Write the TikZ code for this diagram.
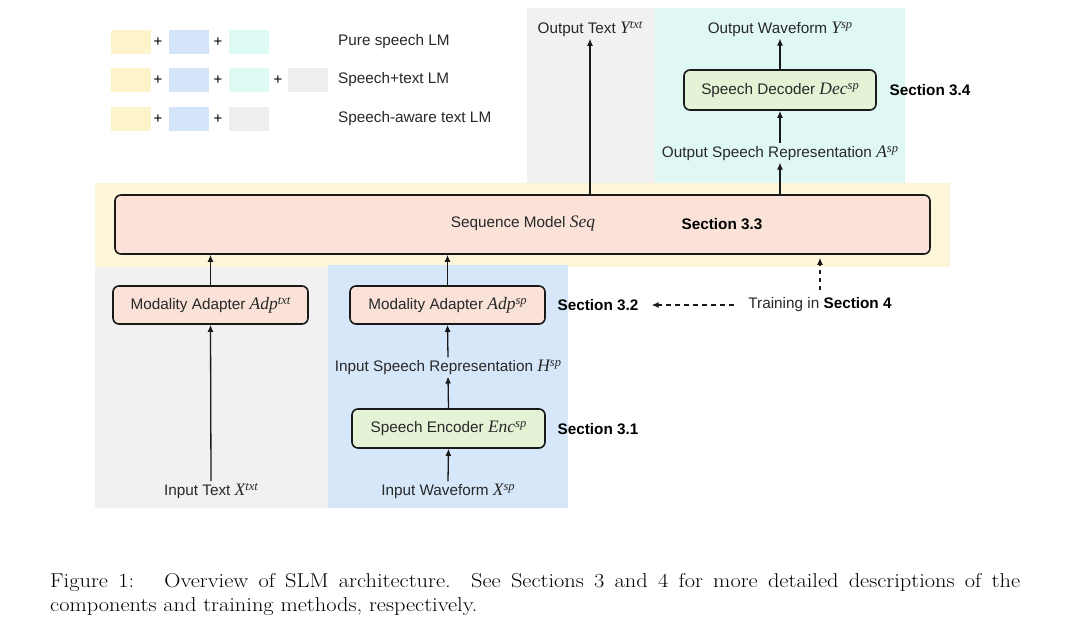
\documentclass[tikz,border=0pt]{standalone}
\usepackage{fontspec}
\newfontfamily\hvfont{Liberation Sans}
\newfontfamily\tmsfont{Liberation Serif}
\usetikzlibrary{arrows.meta}

\definecolor{bandyellow}{RGB}{253,246,218}
\definecolor{bggrey}{RGB}{241,241,241}
\definecolor{bgblue}{RGB}{214,231,249}
\definecolor{bgcyan}{RGB}{224,248,244}
\definecolor{peach}{RGB}{250,226,216}
\definecolor{mint}{RGB}{228,243,214}
\definecolor{lgyellow}{RGB}{253,244,204}
\definecolor{lgblue}{RGB}{212,229,249}
\definecolor{lgcyan}{RGB}{222,250,244}
\definecolor{lggrey}{RGB}{238,238,238}
\definecolor{inkgrey}{RGB}{40,40,40}

\newcommand{\myvar}[2]{{\fontsize{17.5}{18}\tmsfont\itshape #1}\raisebox{5pt}{\fontsize{12.5}{13}\tmsfont\itshape #2}}

\tikzset{
  block/.style={draw=black!90, line width=1.6pt, rounded corners=6pt, fill=peach,
    font=\hvfont\fontsize{15.3}{17}\selectfont, text=inkgrey, inner sep=0pt, minimum height=38pt},
  lbl/.style={font=\hvfont\fontsize{15.3}{17}\selectfont, inner sep=2pt, text=inkgrey},
  sec/.style={font=\hvfont\bfseries\fontsize{15.3}{17}\selectfont, inner sep=1pt},
  arr/.style={-{Latex[length=7pt,width=6pt]}, line width=1.3pt, draw=black!90},
  swatch/.style={minimum width=40pt, minimum height=24pt, inner sep=0pt},
  plus/.style={font=\hvfont\fontsize{15}{16}\selectfont, inner sep=0pt},
}

\begin{document}
\begin{tikzpicture}[x=1pt,y=-1pt]
\useasboundingbox (0,0) rectangle (1080,623);
\fill[white] (0,0) rectangle (1080,623);

% background regions
\fill[bggrey] (527,8) rectangle (655,183);
\fill[bgcyan] (655,8) rectangle (905,183);
\fill[bandyellow] (95,183) rectangle (950,267);
\fill[bggrey] (95,267) rectangle (328,508);
\fill[bgblue] (328,265) rectangle (568,508);

% legend
\node[swatch, fill=lgyellow] (l1a) at (131,42) {};
\node[plus] (l1p1) at (158,42) {+};
\node[swatch, fill=lgblue] (l1b) at (189,42) {};
\node[plus] (l1p2) at (218,42) {+};
\node[swatch, fill=lgcyan] (l1c) at (249,42) {};
\node[lbl, anchor=west] (l1t) at (336,42) {Pure speech LM};

\node[swatch, fill=lgyellow] (l2a) at (131,80) {};
\node[plus] (l2p1) at (158,80) {+};
\node[swatch, fill=lgblue] (l2b) at (189,80) {};
\node[plus] (l2p2) at (218,80) {+};
\node[swatch, fill=lgcyan] (l2c) at (249,80) {};
\node[plus] (l2p3) at (278,80) {+};
\node[swatch, fill=lggrey] (l2d) at (308,80) {};
\node[lbl, anchor=west] (l2t) at (336,80) {Speech+text LM};

\node[swatch, fill=lgyellow] (l3a) at (131,119) {};
\node[plus] (l3p1) at (158,119) {+};
\node[swatch, fill=lgblue] (l3b) at (189,119) {};
\node[plus] (l3p2) at (218,119) {+};
\node[swatch, fill=lggrey] (l3c) at (249,119) {};
\node[lbl, anchor=west] (l3t) at (336,119) {Speech-aware text LM};

% blocks
\node[block, minimum width=815pt, minimum height=59pt] (seq) at (522.5,224.5) {};
\node[lbl] (seqt) at (523,224) {Sequence Model {\fontsize{17.5}{18}\tmsfont\itshape Seq}};
\node[sec] (sec33) at (722,224) {Section 3.3};

\node[block, minimum width=195pt] (adtxt) at (210.5,305) {Modality Adapter \myvar{Adp}{txt}};
\node[block, minimum width=195pt] (adsp) at (447.5,305) {Modality Adapter \myvar{Adp}{sp}};
\node[block, fill=mint, minimum width=193pt, minimum height=39pt] (enc) at (448.5,428.5) {Speech Encoder \myvar{Enc}{sp}};
\node[block, fill=mint, minimum width=192pt, minimum height=40pt] (dec) at (780,90) {Speech Decoder \myvar{Dec}{sp}};

% labels
\node[lbl] (intxt) at (211,491) {Input Text \myvar{X}{txt}};
\node[lbl] (inwav) at (448,491) {Input Waveform \myvar{X}{sp}};
\node[lbl] (hrep) at (448,367) {Input Speech Representation \myvar{H}{sp}};
\node[lbl] (arep) at (780,153) {Output Speech Representation \myvar{A}{sp}};
\node[lbl] (outtxt) at (590,29) {Output Text \myvar{Y}{txt}};
\node[lbl] (outwav) at (780,29) {Output Waveform \myvar{Y}{sp}};

\node[sec] (sec34) at (930,90) {Section 3.4};
\node[sec] (sec32) at (598,305) {Section 3.2};
\node[sec] (sec31) at (598,429) {Section 3.1};
\node[lbl] (train) at (820,305) {Training in {\color{black}\bfseries Section 4}};

% connectors
\draw[arr] (intxt.north) -- (adtxt.south);
\draw[arr] (adtxt.north) -- (adtxt.north |- seq.south);
\draw[arr] (inwav.north) -- (enc.south);
\draw[arr] (enc.north) -- (hrep.south);
\draw[arr] (hrep.north) -- (adsp.south);
\draw[arr] (adsp.north) -- (adsp.north |- seq.south);
\draw[arr] (arep.south |- seq.north) -- (arep.south);
\draw[arr] (arep.north) -- (dec.south);
\draw[arr] (dec.north) -- (outwav.south);
\draw[arr] (outtxt.south |- seq.north) -- (outtxt.south);
\draw[arr, dash pattern=on 4pt off 4pt, shorten <=6pt, shorten >=3pt] (train.north) -- (train.north |- seq.south);
\draw[arr, dash pattern=on 5pt off 4pt, shorten <=12pt, shorten >=12pt] (train.west) -- (sec32.east);

% caption
\node[anchor=north west, inner sep=0pt] (cap) at (50,573)
  {\scalebox{1.12}[1]{\parbox{866pt}{\fontsize{20}{24}\selectfont
   \hyphenpenalty=10000\exhyphenpenalty=10000\hbadness=10000
   Figure 1:\hspace{27pt}Overview of SLM architecture.\ \ See Sections 3 and 4 for more detailed descriptions of the components and training methods, respectively.}}};
\end{tikzpicture}
\end{document}
